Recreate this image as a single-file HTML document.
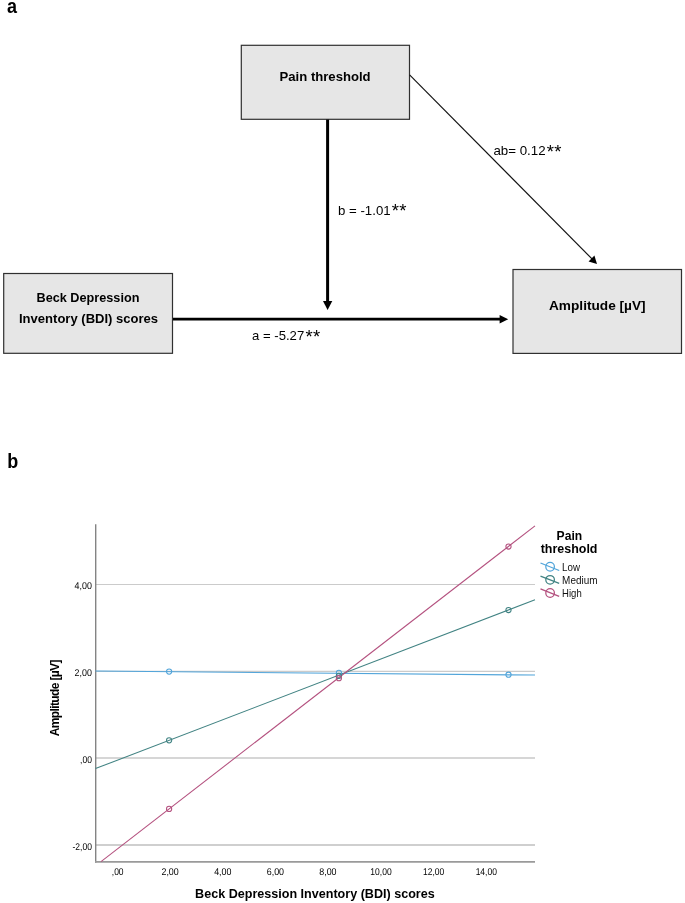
<!DOCTYPE html>
<html lang="en">
<head>
<meta charset="utf-8">
<title>Figure</title>
<style>
html,body{margin:0;padding:0;background:#fff;}
body{width:685px;height:903px;overflow:hidden;}
svg{display:block;}
text{font-family:"Liberation Sans",sans-serif;fill:#000;}
.cb{font-weight:bold;font-size:13px;}
.cr{font-size:12.7px;}
.as{font-size:18.5px;letter-spacing:0.3px;}
.tick{font-size:9.8px;fill:#111;text-rendering:geometricPrecision;}
.lg{font-size:10.2px;fill:#111;}
.ttl{font-weight:bold;font-size:12px;}
</style>
</head>
<body>
<svg width="685" height="903" viewBox="0 0 685 903">
<rect width="685" height="903" fill="#fff"/>

<!-- panel a -->
<text x="7" y="12.5" font-size="20.5" font-weight="bold" textLength="10" lengthAdjust="spacingAndGlyphs">a</text>

<g fill="#e6e6e6" stroke="#303030" stroke-width="1.2">
<rect x="241.3" y="45.3" width="168.2" height="74"/>
<rect x="3.7" y="273.5" width="168.8" height="79.8"/>
<rect x="513" y="269.5" width="168.5" height="83.9"/>
</g>

<text class="cb" x="279.6" y="81.4" textLength="91" lengthAdjust="spacingAndGlyphs">Pain threshold</text>
<text class="cb" x="36.5" y="302.3" textLength="102.9" lengthAdjust="spacingAndGlyphs">Beck Depression</text>
<text class="cb" x="19" y="322.5" textLength="139.1" lengthAdjust="spacingAndGlyphs">Inventory (BDI) scores</text>
<text class="cb" x="549" y="310.3" textLength="96.6" lengthAdjust="spacingAndGlyphs">Amplitude [µV]</text>

<!-- arrows -->
<line x1="327.6" y1="119.5" x2="327.6" y2="302" stroke="#000" stroke-width="3"/>
<polygon points="323,301 332.3,301 327.6,310" fill="#000"/>
<line x1="173" y1="319.2" x2="500.5" y2="319.2" stroke="#000" stroke-width="2.7"/>
<polygon points="499.6,315 499.6,323.5 508.2,319.2" fill="#000"/>
<line x1="409.6" y1="74.9" x2="592" y2="258.9" stroke="#111" stroke-width="1.15"/>
<polygon points="597,264 594.4,255.6 588.6,261.5" fill="#000"/>

<text class="cr" x="338" y="214.7" textLength="52.6" lengthAdjust="spacingAndGlyphs">b = -1.01</text><text class="as" x="391.7" y="217.3">**</text>
<text class="cr" x="493.4" y="155.2" textLength="52.2" lengthAdjust="spacingAndGlyphs">ab= 0.12</text><text class="as" x="546.8" y="158.3">**</text>
<text class="cr" x="252" y="339.6" textLength="52.2" lengthAdjust="spacingAndGlyphs">a = -5.27</text><text class="as" x="305.4" y="342.5">**</text>

<!-- panel b -->
<text x="7.2" y="468" font-size="20.5" font-weight="bold" textLength="11" lengthAdjust="spacingAndGlyphs">b</text>

<g stroke="#cbcbcb" stroke-width="1.1">
<line x1="95.5" y1="584.5" x2="535" y2="584.5"/>
<line x1="95.5" y1="671.35" x2="535" y2="671.35"/>
<line x1="95.5" y1="758" x2="535" y2="758" stroke="#d6d6d6" stroke-width="2"/>
<line x1="95.5" y1="845" x2="535" y2="845" stroke="#cfcfcf" stroke-width="2"/>
</g>

<g stroke="#7a7a7a" stroke-width="1.1">
<line x1="95.7" y1="524.2" x2="95.7" y2="862.7" stroke="#848484" stroke-width="1.4"/>
<line x1="95" y1="861.9" x2="535" y2="861.9" stroke="#9a9a9a" stroke-width="1.8"/>
</g>

<g fill="none" stroke-width="1.05">
<line x1="95.5" y1="671.1" x2="535" y2="675.1" stroke="#52a5da"/>
<line x1="95.5" y1="768.6" x2="535" y2="599.8" stroke="#418383"/>
<line x1="101" y1="861.6" x2="535" y2="525.9" stroke="#b4517f"/>
<g stroke="#52a5da"><circle cx="169.1" cy="671.6" r="2.6"/><circle cx="338.9" cy="672.9" r="2.6"/><circle cx="508.5" cy="674.7" r="2.6"/></g>
<g stroke="#418383"><circle cx="169.1" cy="740.3" r="2.6"/><circle cx="338.9" cy="675.8" r="2.6"/><circle cx="508.5" cy="610" r="2.6"/></g>
<g stroke="#b4517f"><circle cx="169.1" cy="808.9" r="2.6"/><circle cx="338.9" cy="678.2" r="2.6"/><circle cx="508.5" cy="546.5" r="2.6"/></g>
</g>

<g class="tick" text-anchor="end">
<text x="91.9" y="588.8" textLength="17.3" lengthAdjust="spacingAndGlyphs">4,00</text>
<text x="91.9" y="675.9" textLength="17.3" lengthAdjust="spacingAndGlyphs">2,00</text>
<text x="91.9" y="762.7" textLength="11.8" lengthAdjust="spacingAndGlyphs">,00</text>
<text x="91.9" y="849.8" textLength="19.4" lengthAdjust="spacingAndGlyphs">-2,00</text>
</g>
<g class="tick" text-anchor="middle">
<text x="117.7" y="875.2" textLength="11.8" lengthAdjust="spacingAndGlyphs">,00</text>
<text x="170.1" y="875.2" textLength="17.3" lengthAdjust="spacingAndGlyphs">2,00</text>
<text x="222.8" y="875.2" textLength="17.3" lengthAdjust="spacingAndGlyphs">4,00</text>
<text x="275.4" y="875.2" textLength="17.3" lengthAdjust="spacingAndGlyphs">6,00</text>
<text x="327.9" y="875.2" textLength="17.3" lengthAdjust="spacingAndGlyphs">8,00</text>
<text x="381" y="875.2" textLength="21.3" lengthAdjust="spacingAndGlyphs">10,00</text>
<text x="433.7" y="875.2" textLength="21.3" lengthAdjust="spacingAndGlyphs">12,00</text>
<text x="486.3" y="875.2" textLength="21.3" lengthAdjust="spacingAndGlyphs">14,00</text>
</g>

<text class="ttl" x="195.1" y="898.3" style="font-size:12.3px" textLength="239.6" lengthAdjust="spacingAndGlyphs">Beck Depression Inventory (BDI) scores</text>
<text class="ttl" transform="translate(58.7 736.3) rotate(-90)" textLength="76.8" lengthAdjust="spacing">Amplitude [µV]</text>

<!-- legend -->
<text class="ttl" x="556.6" y="540.3" style="font-size:12.3px" textLength="25.6" lengthAdjust="spacingAndGlyphs">Pain</text>
<text class="ttl" x="540.7" y="552.6" style="font-size:12.3px" textLength="56.8" lengthAdjust="spacingAndGlyphs">threshold</text>
<g fill="none" stroke-width="1.25">
<g stroke="#52a5da"><line x1="540.5" y1="563" x2="559.2" y2="570.5"/><circle cx="550.1" cy="566.7" r="4.3"/></g>
<g stroke="#418383"><line x1="540.5" y1="576.1" x2="559.2" y2="583.3"/><circle cx="550.1" cy="579.8" r="4.3"/></g>
<g stroke="#b4517f"><line x1="540.5" y1="588.9" x2="559.2" y2="596.3"/><circle cx="550.1" cy="593" r="4.3"/></g>
</g>
<text class="lg" x="562.1" y="571" textLength="17.9" lengthAdjust="spacingAndGlyphs">Low</text>
<text class="lg" x="562.1" y="584.2" textLength="35.4" lengthAdjust="spacingAndGlyphs">Medium</text>
<text class="lg" x="562.1" y="596.6" textLength="19.6" lengthAdjust="spacingAndGlyphs">High</text>
</svg>
</body>
</html>
